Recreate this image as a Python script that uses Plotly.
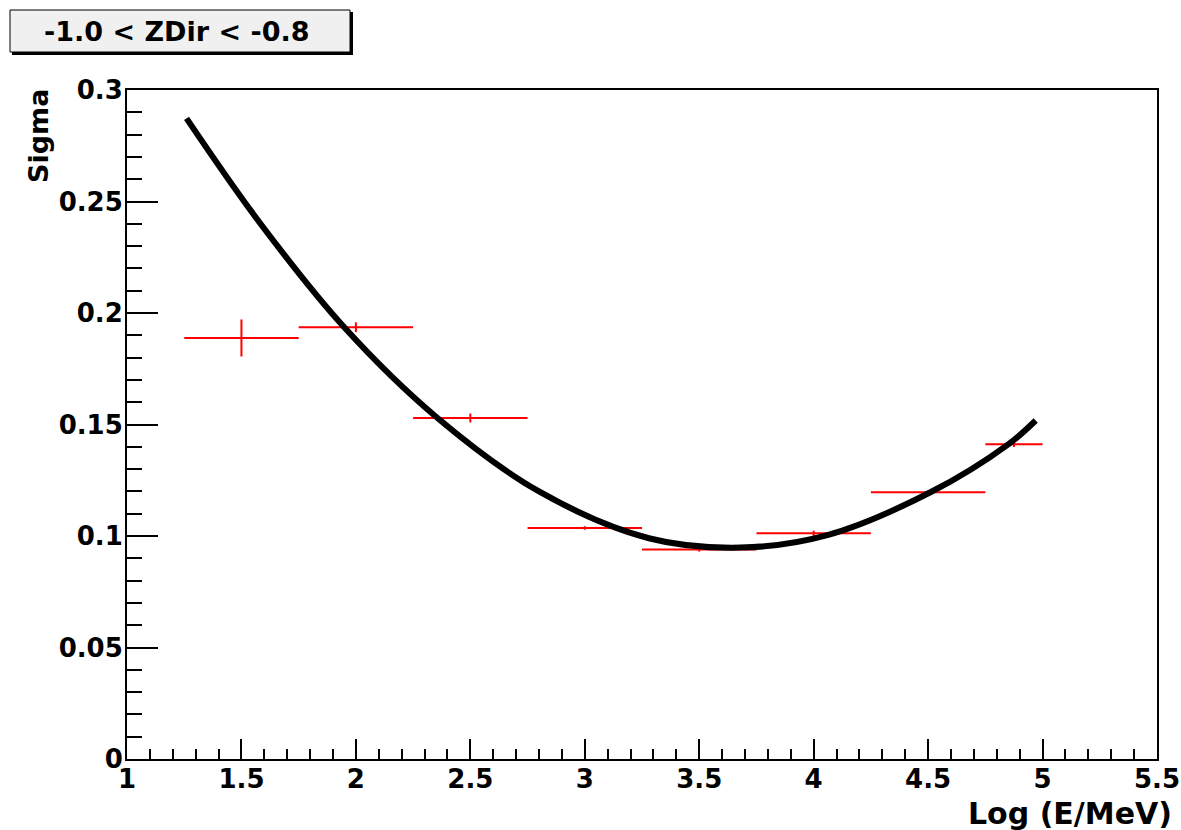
import plotly.graph_objects as go

# Measured points (red error bars)
bin_centers = [1.5, 2.0, 2.5, 3.0, 3.5, 4.0, 4.5, 4.875]
bin_halfwidths = [0.25, 0.25, 0.25, 0.25, 0.25, 0.25, 0.25, 0.125]
sigma_values = [0.1888, 0.1936, 0.1529, 0.1036, 0.0940, 0.1012, 0.1196, 0.1411]
sigma_errors = [0.0083, 0.0022, 0.0020, 0.0008, 0.0010, 0.0012, 0.0008, 0.0012]

# Fit curve
curve_x = [1.26, 1.58, 1.95, 2.35, 2.80, 3.28, 3.68, 4.06, 4.51, 4.85, 4.97]
curve_y = [0.2873, 0.2405, 0.1935, 0.1535, 0.1200, 0.0990, 0.0948, 0.1004, 0.1196, 0.1411, 0.1518]

title_text = "-1.0 < ZDir < -0.8"
x_title = "Log (E/MeV)"
y_title = "Sigma"

W, H = 1181, 830
L, R, T, B = 127, 1157, 90, 759

def px(xp):
    return (xp - L) / (R - L)

def py(yp):
    return (B - yp) / (B - T)

FONT = "DejaVu Sans"

fig = go.Figure()
fig.add_trace(go.Scatter(
    x=bin_centers, y=sigma_values, mode="markers",
    marker=dict(size=2, color="red"),
    error_x=dict(type="data", array=bin_halfwidths, color="red", thickness=2, width=0),
    error_y=dict(type="data", array=sigma_errors, color="red", thickness=2, width=0),
    showlegend=False, hoverinfo="x+y",
))
fig.add_trace(go.Scatter(
    x=curve_x, y=curve_y, mode="lines",
    line=dict(color="black", width=6, shape="spline", smoothing=1.0),
    showlegend=False,
))

axis_common = dict(
    showgrid=False, zeroline=False, showline=True, linecolor="black", linewidth=2,
    mirror=True, ticks="inside", tickcolor="black", tickwidth=2, automargin=False,
    tickfont=dict(family=FONT, size=26, color="black", weight="bold"),
)

fig.update_xaxes(
    range=[1, 5.5], dtick=0.5, tick0=1, ticklen=20, ticklabelstandoff=-4,
    minor=dict(dtick=0.1, ticklen=10, ticks="inside", tickcolor="black", tickwidth=2),
    **axis_common,
)
fig.update_yaxes(
    range=[0, 0.3], dtick=0.05, tick0=0, ticklen=31, ticklabelstandoff=-3,
    minor=dict(dtick=0.01, ticklen=15, ticks="inside", tickcolor="black", tickwidth=2),
    **axis_common,
)

# Axis titles as annotations (ROOT style: right/top aligned)
fig.add_annotation(
    x=px(1174), y=py(813), xref="paper", yref="paper",
    text=x_title, showarrow=False, xanchor="right", yanchor="middle",
    font=dict(family=FONT, size=30, color="black", weight="bold"),
)
fig.add_annotation(
    x=px(38), y=py(87), xref="paper", yref="paper",
    text=y_title, showarrow=False, textangle=-90, xanchor="center", yanchor="top",
    font=dict(family=FONT, size=27, color="black", weight="bold"),
)

# Title box with shadow
fig.add_shape(type="rect", xref="paper", yref="paper",
              x0=px(12), x1=px(353), y0=py(55), y1=py(12),
              fillcolor="black", line=dict(width=0), layer="above")
fig.add_shape(type="rect", xref="paper", yref="paper",
              x0=px(10), x1=px(350), y0=py(52), y1=py(10),
              fillcolor="#f0f0f0", line=dict(color="black", width=1), layer="above")
fig.add_annotation(
    x=px(176), y=py(31), xref="paper", yref="paper",
    text=title_text, showarrow=False, xanchor="center", yanchor="middle",
    font=dict(family=FONT, size=27, color="black", weight="bold"),
)

fig.update_layout(
    width=W, height=H,
    margin=dict(l=L, r=W - R, t=T, b=H - B),
    paper_bgcolor="white", plot_bgcolor="white",
)

fig.write_html("out.html", config={"displayModeBar": False},
               post_script="document.body.style.margin='0px';")
